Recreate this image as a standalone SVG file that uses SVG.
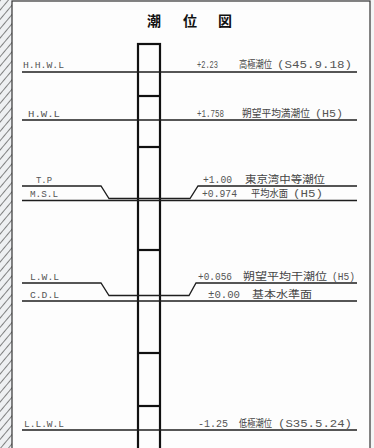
<svg xmlns="http://www.w3.org/2000/svg" width="374" height="448" viewBox="0 0 374 448">
<defs>
<pattern id="hatch" width="6" height="6" patternUnits="userSpaceOnUse" patternTransform="rotate(40)">
<rect width="6" height="6" fill="#eef0f2"/>
<line x1="0" y1="0" x2="0" y2="6" stroke="#444" stroke-width="1.3"/>
</pattern>
<style>
.ln{stroke:#1e1e1e;stroke-width:1.3;fill:none}
.lbl{font-family:"Liberation Mono","DejaVu Sans Mono",monospace;font-size:9px;fill:#555}
.val{font-family:"Liberation Mono","DejaVu Sans Mono",monospace;font-size:10px;fill:#555}
.jp{font-family:"Noto Sans CJK JP","Noto Sans",sans-serif;font-size:10px;fill:#444}
.ttl{font-family:"Noto Sans CJK JP",sans-serif;font-size:14px;font-weight:bold;fill:#111}
.staff{stroke:#111;stroke-width:2.2;fill:none}
</style>
</defs>
<rect x="0" y="0" width="374" height="448" fill="#f4f5f6"/>
<rect x="0" y="0" width="12" height="448" fill="url(#hatch)"/>
<rect x="12" y="1" width="358" height="452" fill="#fdfdfd" stroke="#333" stroke-width="1.2"/>
<g id="title">
<text class="ttl" x="147" y="26">潮</text>
<text class="ttl" x="183" y="26">位</text>
<text class="ttl" x="218" y="26">図</text>
</g>
<g id="staff">
<rect class="staff" x="138" y="44" width="22" height="410"/>
<line class="staff" x1="138" y1="96" x2="160" y2="96"/>
<line class="staff" x1="138" y1="147" x2="160" y2="147"/>
<line class="staff" x1="138" y1="250" x2="160" y2="250"/>
<line class="staff" x1="138" y1="353" x2="160" y2="353"/>
<line class="staff" x1="138" y1="406" x2="160" y2="406"/>
</g>
<g id="connectors">
<line class="ln" x1="22" y1="72" x2="357" y2="72" style="stroke-width:1.6"/>
<line class="ln" x1="22" y1="120" x2="357" y2="120"/>
<polyline class="ln" points="22,186 101,186 109,198.5 190,198.5 198,186 357,186"/>
<line class="ln" x1="22" y1="200.5" x2="357" y2="200.5"/>
<polyline class="ln" points="22,283 101,283 109,295.5 189,295.5 196,283 357,283"/>
<line class="ln" x1="22" y1="301" x2="357" y2="301"/>
<line class="ln" x1="22" y1="430" x2="357" y2="430" style="stroke-width:1.6"/>
</g>
<g id="hhwl">
<text class="lbl" x="23" y="68" textLength="41" lengthAdjust="spacingAndGlyphs">H.H.W.L</text>
<text class="val" x="197" y="68" textLength="21" lengthAdjust="spacingAndGlyphs">+2.23</text>
<text class="jp" x="239" y="68" textLength="33" lengthAdjust="spacingAndGlyphs">高極潮位</text>
<text class="val" x="277" y="68" textLength="75" lengthAdjust="spacingAndGlyphs">(S45.9.18)</text>
</g>
<g id="hwl">
<text class="lbl" x="28" y="117" textLength="32" lengthAdjust="spacingAndGlyphs">H.W.L</text>
<text class="val" x="197" y="117" textLength="27" lengthAdjust="spacingAndGlyphs">+1.758</text>
<text class="jp" x="242" y="117" textLength="68" lengthAdjust="spacingAndGlyphs">朔望平均満潮位</text>
<text class="val" x="315" y="117" textLength="28" lengthAdjust="spacingAndGlyphs">(H5)</text>
</g>
<g id="tp">
<text class="lbl" x="36" y="183" textLength="16" lengthAdjust="spacingAndGlyphs">T.P</text>
<text class="val" x="203" y="183" textLength="29" lengthAdjust="spacingAndGlyphs">+1.00</text>
<text class="jp" x="245" y="183" textLength="80" lengthAdjust="spacingAndGlyphs">東京湾中等潮位</text>
</g>
<g id="msl">
<text class="lbl" x="30" y="197" textLength="28" lengthAdjust="spacingAndGlyphs">M.S.L</text>
<text class="val" x="202" y="197" textLength="35" lengthAdjust="spacingAndGlyphs">+0.974</text>
<text class="jp" x="251" y="197" textLength="37" lengthAdjust="spacingAndGlyphs">平均水面</text>
<text class="val" x="293" y="197" textLength="30" lengthAdjust="spacingAndGlyphs">(H5)</text>
</g>
<g id="lwl">
<text class="lbl" x="30" y="280" textLength="29" lengthAdjust="spacingAndGlyphs">L.W.L</text>
<text class="val" x="198" y="280" textLength="34" lengthAdjust="spacingAndGlyphs">+0.056</text>
<text class="jp" x="243" y="280" textLength="84" lengthAdjust="spacingAndGlyphs">朔望平均干潮位</text>
<text class="val" x="332" y="280" textLength="23" lengthAdjust="spacingAndGlyphs">(H5)</text>
</g>
<g id="cdl">
<text class="lbl" x="30" y="298" textLength="29" lengthAdjust="spacingAndGlyphs">C.D.L</text>
<text class="val" x="208" y="298" textLength="32" lengthAdjust="spacingAndGlyphs">±0.00</text>
<text class="jp" x="252" y="298" textLength="60" lengthAdjust="spacingAndGlyphs">基本水準面</text>
</g>
<g id="llwl">
<text class="lbl" x="24" y="427" textLength="40" lengthAdjust="spacingAndGlyphs">L.L.W.L</text>
<text class="val" x="198" y="427" textLength="30" lengthAdjust="spacingAndGlyphs">-1.25</text>
<text class="jp" x="239" y="427" textLength="33" lengthAdjust="spacingAndGlyphs">低極潮位</text>
<text class="val" x="278" y="427" textLength="74" lengthAdjust="spacingAndGlyphs">(S35.5.24)</text>
</g>
</svg>
